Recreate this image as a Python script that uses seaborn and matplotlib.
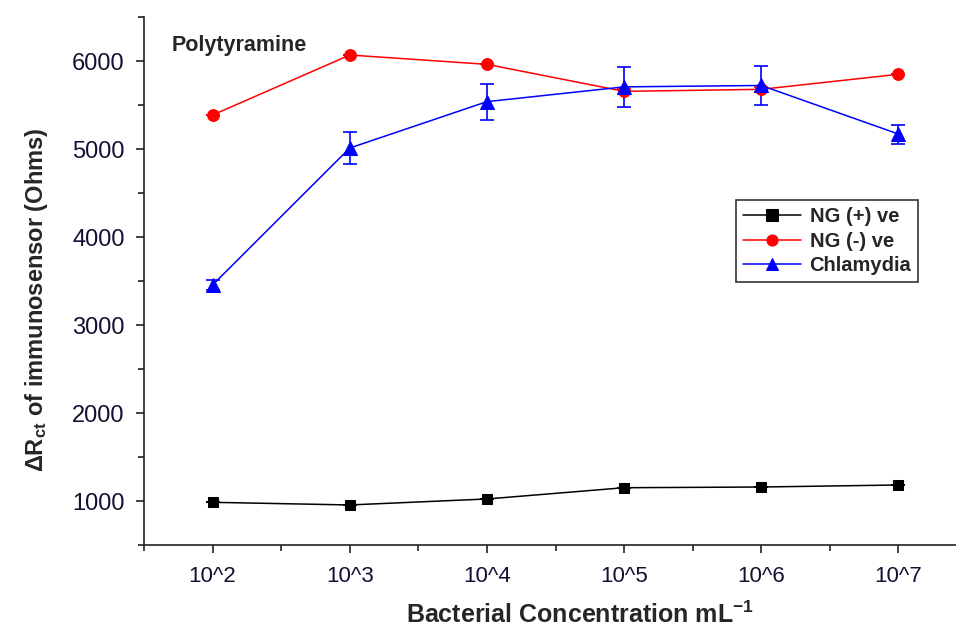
import numpy as np
import pandas as pd
import seaborn as sns
import matplotlib
matplotlib.use("Agg")
import matplotlib.pyplot as plt
from matplotlib.ticker import MultipleLocator

# Data
exponents = [2, 3, 4, 5, 6, 7]
tick_labels = ["10^2", "10^3", "10^4", "10^5", "10^6", "10^7"]
series_names = ["NG (+) ve", "NG (-) ve", "Chlamydia"]
ng_pos = [985, 955, 1023, 1151, 1159, 1182]
ng_neg = [5386, 6068, 5962, 5655, 5678, 5849]
chlamydia = [3455, 5011, 5538, 5706, 5722, 5170]
ng_pos_err = [0, 0, 0, 0, 0, 0]
ng_neg_err = [0, 0, 0, 30, 30, 0]
chlamydia_err = [60, 182, 205, 224, 224, 108]

sns.set_theme(style="ticks")
plt.rcParams["font.family"] = ["Liberation Sans", "DejaVu Sans"]
plt.rcParams["mathtext.fontset"] = "custom"
plt.rcParams["mathtext.rm"] = "Liberation Sans"
plt.rcParams["mathtext.bf"] = "Liberation Sans:bold"

df = pd.DataFrame({
    "x": exponents * 3,
    "y": ng_pos + ng_neg + chlamydia,
    "series": [series_names[0]] * 6 + [series_names[1]] * 6 + [series_names[2]] * 6,
})

colors = {"NG (+) ve": "black", "NG (-) ve": "#ff0000", "Chlamydia": "#0000ff"}
markers = {"NG (+) ve": "s", "NG (-) ve": "o", "Chlamydia": "^"}
msizes = {"NG (+) ve": 7.5, "NG (-) ve": 8.5, "Chlamydia": 10}
errs = {"NG (+) ve": ng_pos_err, "NG (-) ve": ng_neg_err, "Chlamydia": chlamydia_err}

fig = plt.figure(figsize=(9.56, 6.28), dpi=100)
ax = fig.add_axes([144 / 956, 1 - 545 / 628, 823 / 956, 528 / 628])

for name in series_names:
    sub = df[df["series"] == name]
    ax.errorbar(sub["x"], sub["y"], yerr=errs[name], fmt="none",
                ecolor=colors[name], elinewidth=1.2, capsize=5, capthick=1.2, zorder=2)
    sns.lineplot(data=sub, x="x", y="y", ax=ax, color=colors[name], marker=markers[name],
                 markersize=msizes[name], markeredgecolor=colors[name], linewidth=1.1,
                 label=name, zorder=3)

ax.set_xlim(1.5, 7.5)
ax.set_ylim(500, 6500)
ax.set_xticks(exponents)
ax.set_xticklabels(tick_labels)
ax.xaxis.set_minor_locator(MultipleLocator(0.5))
ax.set_yticks([1000, 2000, 3000, 4000, 5000, 6000])
ax.yaxis.set_minor_locator(MultipleLocator(500))
ax.tick_params(axis="both", which="major", direction="out", length=6, width=1.2,
               colors="#222222", labelcolor="#111133")
ax.tick_params(axis="x", which="major", labelsize=16, pad=9)
ax.tick_params(axis="y", which="major", labelsize=17, pad=8)
ax.tick_params(axis="both", which="minor", direction="out", length=4, width=1.2, colors="#222222")
for side in ["left", "bottom"]:
    ax.spines[side].set_linewidth(1.2)
    ax.spines[side].set_color("#222222")
sns.despine(ax=ax)

ax.set_xlabel(r"Bacterial Concentration mL$^{\mathbf{-1}}$", fontsize=18, fontweight="bold")
ax.set_ylabel(r"$\mathbf{\Delta R_{ct}}$ of immunosensor (Ohms)", fontsize=17, fontweight="bold")
ax.xaxis.set_label_coords(0.53, -0.108)
ax.yaxis.set_label_coords(-0.114, 0.464)

ax.text(28 / 823, (545 - 45) / 528, "Polytyramine", transform=ax.transAxes,
        fontsize=15.5, fontweight="bold", va="center", ha="left")

leg = ax.legend(loc="upper left", bbox_to_anchor=(736 / 956, 1 - 200 / 628),
                bbox_transform=fig.transFigure, frameon=True, fancybox=False,
                edgecolor="black", prop={"weight": "bold", "size": 14.5},
                handlelength=2.9, borderaxespad=0, labelspacing=0.28,
                handletextpad=0.4, borderpad=0.35)
leg.get_frame().set_linewidth(1.2)
for h in leg.legend_handles:
    h.set_markersize(8)

fig.savefig("out.png", dpi=100)
